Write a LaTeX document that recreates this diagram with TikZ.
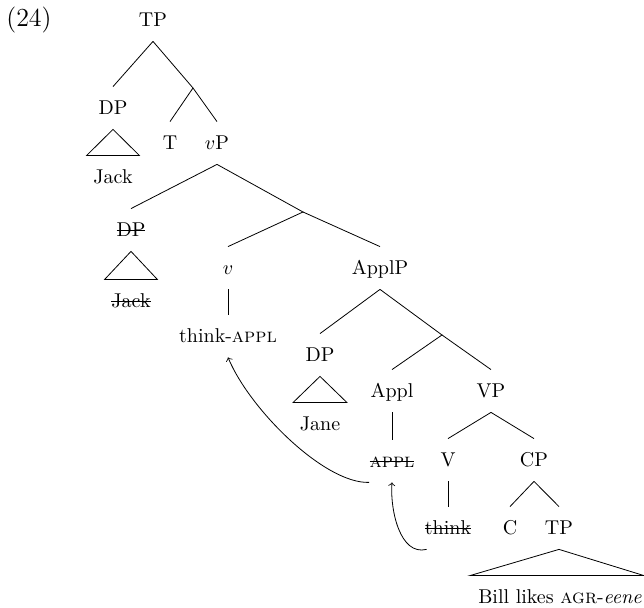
\documentclass[tikz,border=0pt]{standalone}
\usepackage{amsmath,amssymb}
\usepackage{tikz}

% struck-out copies
\newsavebox\strikebox
\newcommand\strike[1]{\sbox\strikebox{#1}\rlap{\rule[3pt]{\wd\strikebox}{0.4pt}}\usebox\strikebox}

\tikzset{
  cat/.style={inner xsep=3pt,inner ysep=7.1pt,text height=6.8pt,text depth=0pt},
}

\begin{document}
\begin{tikzpicture}[x=0.5pt,y=-0.5pt,>=to]
\useasboundingbox (0,0) rectangle (644,608);
\node[font=\fontsize{13}{15}\selectfont] (num) at (29,20) {(24)};
% TP and its subject
\node[cat] (tp) at (153,20) {TP};
\node[cat] (dpa) at (113,108) {DP};
\node[cat] (jacka) at (113,177) {Jack};
\coordinate (tbar) at (193,88);
\node[cat] (t) at (170,143) {T};
\node[cat] (vp) at (217,143) {$v$P};
% vP
\node[cat] (dpb) at (131,230) {\strike{DP}};
\node[cat] (jackb) at (131,301) {\strike{Jack}};
\coordinate (vbar) at (303,212);
\node[cat] (v) at (228,268) {$v$};
\node[cat] (thinka) at (228,336) {think-\textsc{appl}};
\node[cat] (applp) at (380,268) {ApplP};
% ApplP
\node[cat] (dpc) at (320,355) {DP};
\node[cat] (jane) at (320,424) {Jane};
\coordinate (applbar) at (442,335);
\node[cat] (appl) at (392,391) {Appl};
\node[cat] (applh) at (392,461) {\strike{\textsc{appl}}};
\node[cat] (vpp) at (491,391) {VP};
% VP
\node[cat] (vh) at (448,460) {V};
\node[cat] (thinkh) at (448,528) {\strike{think}};
\node[cat] (cp) at (534,460) {CP};
\node[cat] (c) at (510,528) {C};
\node[cat] (tpb) at (559,528) {TP};
\node[cat] (bill) at (560,597) {Bill likes \textsc{agr}-\textit{eene}};

\draw (tp.south) -- (dpa.north);
\draw (tp.south) -- (tbar) -- (t.north);
\draw (tbar) -- (vp.north);
\draw (dpa.south) -- ([xshift=-13.25pt]jacka.north) -- ([xshift=13.25pt]jacka.north) -- cycle;

\draw (vp.south) -- (dpb.north);
\draw (vp.south) -- (vbar) -- (v.north);
\draw (vbar) -- (applp.north);
\draw (dpb.south) -- ([xshift=-13.25pt]jackb.north) -- ([xshift=13.25pt]jackb.north) -- cycle;
\draw (v.south) -- (thinka.north);

\draw (applp.south) -- (dpc.north);
\draw (applp.south) -- (applbar) -- (appl.north);
\draw (applbar) -- (vpp.north);
\draw (dpc.south) -- ([xshift=-13.5pt]jane.north) -- ([xshift=13.5pt]jane.north) -- cycle;
\draw (appl.south) -- (applh.north);

\draw (vpp.south) -- (vh.north);
\draw (vpp.south) -- (cp.north);
\draw (vh.south) -- (thinkh.north);
\draw (cp.south) -- (c.north);
\draw (cp.south) -- (tpb.north);
\draw (tpb.south) -- ([xshift=-45pt]bill.north) -- ([xshift=42pt]bill.north) -- cycle;

% head movement
\draw[->] ([xshift=3pt]applh.south west) .. controls (325,484) and (250,410) .. (thinka.south);
\draw[->] ([xshift=4pt]thinkh.south west) .. controls (400,556) and (390,510) .. (applh.south);
\end{tikzpicture}
\end{document}
